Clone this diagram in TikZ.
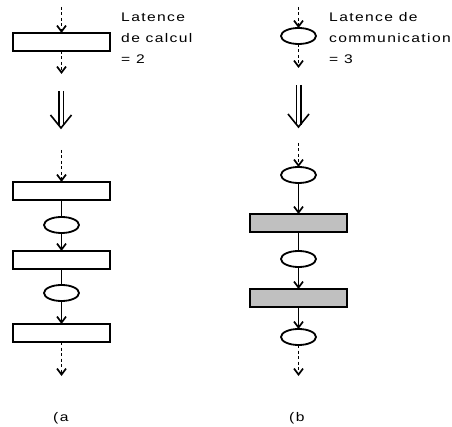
\documentclass[tikz,border=0pt]{standalone}
\usepackage{fontspec}
\setmainfont{Liberation Sans}[LetterSpace=11,FakeStretch=1.25]
\usetikzlibrary{arrows.meta,shapes.geometric}
\definecolor{fillg}{HTML}{C0C0C0}
\begin{document}
\begin{tikzpicture}[x=1pt,y=-1pt,
  ops/.style={draw,line width=1.8pt,minimum width=97pt,minimum height=18pt,inner sep=0pt,outer sep=0pt},
  opsg/.style={ops,fill=fillg},
  com/.style={draw,ellipse,line width=1.8pt,minimum width=35pt,minimum height=16pt,inner sep=0pt,outer sep=0pt},
  lbl/.style={anchor=base west,inner sep=0pt,font=\fontsize{12.5}{15}\selectfont},
  tipv/.style={-{Straight Barb[length=6pt,width=9pt]}},
  flow/.style={line width=1.7pt,tipv},
  link/.style={line width=1.7pt},
  dflow/.style={line width=1.7pt,dash pattern=on 3pt off 2.5pt,tipv},
  bigdbl/.style={double distance=3pt,line width=1.5pt},
  bigv/.style={line width=1.6pt}
]
\useasboundingbox (0,0) rectangle (452,427);

% ---------- (a) top ----------
\coordinate (a0) at (61.5,7);
\node[ops] (a1) at (61.5,42) {};
\coordinate (a2) at (61.5,74);
\draw[dflow] (a0) -- (a1);
\draw[dflow] (a1) -- (a2);
\node[lbl] (ta1) at (121,22) {Latence};
\node[lbl] (ta2) at (121,42.5) {de calcul};
\node[lbl] (ta3) at (121,63.5) {= 2};

% double arrow (a)
\coordinate (da1) at (61,91);
\coordinate (da2) at (61,126);
\coordinate (dal) at (50.5,115);
\coordinate (dat) at (61,128);
\coordinate (dar) at (71.5,115);
\draw[bigdbl] (da1) -- (da2);
\draw[bigv] (dal) -- (dat) -- (dar);

% ---------- (a) bottom ----------
\coordinate (a3) at (61.5,150);
\node[ops] (a4) at (61.5,191) {};
\node[com] (a5) at (61.5,225) {};
\node[ops] (a6) at (61.5,260) {};
\node[com] (a7) at (61.5,293) {};
\node[ops] (a8) at (61.5,333) {};
\coordinate (a9) at (61.5,376);
\draw[dflow] (a3) -- (a4);
\draw[link] (a4) -- (a5);
\draw[flow] (a5) -- (a6);
\draw[link] (a6) -- (a7);
\draw[flow] (a7) -- (a8);
\draw[dflow] (a8) -- (a9);
\node[lbl] (la) at (53,421.5) {(a};

% ---------- (b) top ----------
\coordinate (b0) at (298.5,7);
\node[com] (b1) at (298.5,36) {};
\coordinate (b2) at (298.5,68);
\draw[dflow] (b0) -- (b1);
\draw[dflow] (b1) -- (b2);
\node[lbl] (tb1) at (329,22) {Latence de};
\node[lbl] (tb2) at (329,42.5) {communication};
\node[lbl] (tb3) at (329,63.5) {= 3};

% double arrow (b)
\coordinate (db1) at (298.5,85);
\coordinate (db2) at (298.5,125);
\coordinate (dbl) at (288,114);
\coordinate (dbt) at (298.5,127);
\coordinate (dbr) at (309,114);
\draw[bigdbl] (db1) -- (db2);
\draw[bigv] (dbl) -- (dbt) -- (dbr);

% ---------- (b) bottom ----------
\coordinate (b3) at (298.5,143);
\node[com] (b4) at (298.5,175) {};
\node[opsg] (b5) at (298.5,223) {};
\node[com] (b6) at (298.5,259) {};
\node[opsg] (b7) at (298.5,298) {};
\node[com] (b8) at (298.5,337) {};
\coordinate (b9) at (298.5,376);
\draw[dflow] (b3) -- (b4);
\draw[flow] (b4) -- (b5);
\draw[link] (b5) -- (b6);
\draw[flow] (b6) -- (b7);
\draw[flow] (b7) -- (b8);
\draw[dflow] (b8) -- (b9);
\node[lbl] (lb) at (289,421.5) {(b};
\end{tikzpicture}
\end{document}
